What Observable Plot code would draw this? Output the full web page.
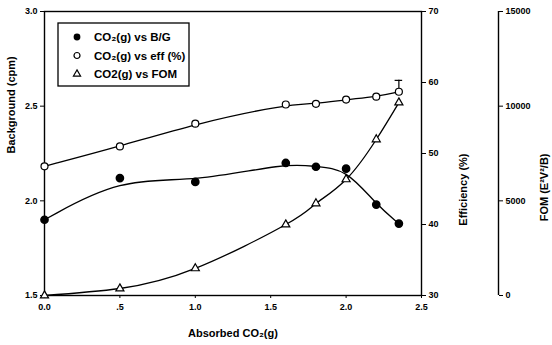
<!DOCTYPE html>
<html><head><meta charset="utf-8">
<script src="https://cdn.jsdelivr.net/npm/d3@7"></script>
<script src="https://cdn.jsdelivr.net/npm/@observablehq/plot@0.6"></script>
<style>
body{margin:0;background:#fff;}
#chart svg{font-family:"Liberation Sans",Arial,sans-serif;}
</style></head><body><div id="chart"></div>
<script>
// ---- data ----
const co2 = [0, 0.5, 1.0, 1.6, 1.8, 2.0, 2.2, 2.35];
const background = [1.90, 2.12, 2.10, 2.20, 2.18, 2.17, 1.98, 1.88];
const efficiency = [48.2, 51.0, 54.2, 56.9, 57.0, 57.6, 58.0, 58.7];
const effError = [0, 0, 0, 0, 0, 0, 0, 1.6];
const fom = [0, 370, 1430, 3750, 4860, 6130, 8240, 10190];

const xTicks = [0, 0.5, 1.0, 1.5, 2.0, 2.5];
const xTickLabels = ["0.0", ".5", "1.0", "1.5", "2.0", "2.5"];
const bgTicks = [1.5, 2.0, 2.5, 3.0];
const effTicks = [30, 40, 50, 60, 70];
const fomTicks = [0, 5000, 10000, 15000];
const xDomain = [0, 2.5];
const bgDomain = [1.5, 3.0];
const effDomain = [30, 70];
const fomDomain = [0, 15000];
const legendLabels = ["CO₂(g) vs B/G", "CO₂(g) vs eff (%)", "CO2(g) vs FOM"];
const axisTitles = {x: "Absorbed CO₂(g)", bg: "Background (cpm)", eff: "Efficiency (%)", fom: "FOM (E²V²/B)"};

// map secondary axes onto the background scale
const span = bgDomain[1] - bgDomain[0];
const effToBg = v => bgDomain[0] + (v - effDomain[0]) / (effDomain[1] - effDomain[0]) * span;
const bgToEff = v => effDomain[0] + (v - bgDomain[0]) / span * (effDomain[1] - effDomain[0]);
const fomToBg = v => bgDomain[0] + (v - fomDomain[0]) / (fomDomain[1] - fomDomain[0]) * span;
const bgToFom = v => fomDomain[0] + (v - bgDomain[0]) / span * (fomDomain[1] - fomDomain[0]);

const rows = co2.map((x, i) => ({
  x, bg: background[i], eff: effToBg(efficiency[i]),
  effHi: effToBg(efficiency[i] + effError[i]), err: effError[i],
  fom: fomToBg(fom[i])
}));
const errRows = rows.filter(d => d.err > 0);

const font = {fontSize: 9, fontWeight: "bold"};
const titleFont = {fontSize: 11, fontWeight: "bold", fill: "black"};

const chart = Plot.plot({
  width: 552, height: 345,
  marginLeft: 44, marginRight: 131, marginTop: 11, marginBottom: 50,
  x: {domain: xDomain},
  y: {domain: bgDomain},
  style: {fontFamily: "'Liberation Sans', Arial, sans-serif", color: "black", background: "white"},
  marks: [
    Plot.frame({stroke: "black", strokeWidth: 1.4}),
    Plot.ruleX([xDomain[1]], {dx: 77, stroke: "black", strokeWidth: 1.4}),
    Plot.axisX(xTicks, {tickFormat: d => xTickLabels[xTicks.indexOf(d)], tickSize: 3, tickPadding: 5, label: null, ...font}),
    Plot.axisY(bgTicks, {tickFormat: d => d.toFixed(1), tickSize: 4, tickPadding: 3, label: null, ...font}),
    Plot.axisY(effTicks.map(effToBg), {anchor: "right", tickFormat: d => String(Math.round(bgToEff(d))), tickSize: 4, tickPadding: 3, label: null, ...font}),
    Plot.axisY(fomTicks.map(fomToBg), {anchor: "right", dx: 77, tickFormat: d => String(Math.round(bgToFom(d))), tickSize: 4, tickPadding: 3, label: null, ...font}),
    Plot.text([axisTitles.x], {frameAnchor: "bottom", dy: 41, ...titleFont}),
    Plot.text([axisTitles.bg], {frameAnchor: "left", dx: -33, rotate: -90, ...titleFont}),
    Plot.text([axisTitles.eff], {frameAnchor: "right", dx: 42, rotate: -90, ...titleFont}),
    Plot.text([axisTitles.fom], {frameAnchor: "right", dx: 123, rotate: -90, ...titleFont}),
    Plot.line(rows, {x: "x", y: "bg", curve: "basis", stroke: "black", strokeWidth: 1.3}),
    Plot.line(rows, {x: "x", y: "eff", curve: "basis", stroke: "black", strokeWidth: 1.3}),
    Plot.line(rows, {x: "x", y: "fom", curve: "natural", stroke: "black", strokeWidth: 1.3}),
    Plot.ruleX(errRows, {x: "x", y1: "eff", y2: "effHi", stroke: "black", strokeWidth: 1.2}),
    Plot.ruleY(errRows, {y: "effHi", x1: d => d.x - 0.025, x2: d => d.x + 0.025, stroke: "black", strokeWidth: 1.2}),
    Plot.dot(rows, {x: "x", y: "bg", r: 3.6, fill: "black", stroke: "black"}),
    Plot.dot(rows, {x: "x", y: "eff", r: 3.5, fill: "white", stroke: "black", strokeWidth: 1.2}),
    Plot.dot(rows, {x: "x", y: "fom", symbol: "triangle", r: 3, fill: "white", stroke: "black", strokeWidth: 1.2})
  ]
});

document.getElementById("chart").appendChild(chart);
const svg = d3.select(chart);

// legend
const lg = svg.append("g").attr("transform", "translate(58,23)")
  .attr("text-anchor", "start")
  .style("font-family", "'Liberation Sans', Arial, sans-serif").style("font-size", "11.5px").style("font-weight", "bold");
lg.append("rect").attr("width", 131).attr("height", 63).attr("fill", "white").attr("stroke", "black").attr("stroke-width", 1.3);
const sym = [
  g => g.append("circle").attr("r", 3.4).attr("fill", "black"),
  g => g.append("circle").attr("r", 3).attr("fill", "white").attr("stroke", "black").attr("stroke-width", 1.2),
  g => g.append("path").attr("d", d3.symbol(d3.symbolTriangle, 22)()).attr("fill", "white").attr("stroke", "black").attr("stroke-width", 1.2)
];
legendLabels.forEach((lab, i) => {
  const row = lg.append("g").attr("transform", `translate(0,${14 + i * 18.5})`);
  sym[i](row.append("g").attr("transform", "translate(19,0)"));
  row.append("text").attr("x", 36).attr("dy", "0.35em").attr("text-anchor", "start").text(lab);
});
</script></body></html>
